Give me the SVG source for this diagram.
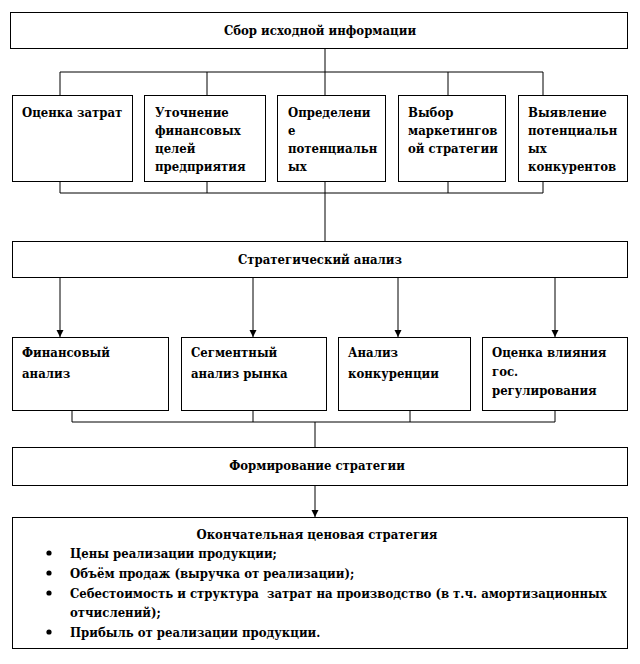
<svg xmlns="http://www.w3.org/2000/svg" width="640" height="664" viewBox="0 0 640 664">
<style>
  .box{fill:#fff;stroke:#000;stroke-width:1}
  .c{text-anchor:middle}
  .ln{fill:none;stroke:#000;stroke-width:1}
  text{font-family:"DejaVu Serif",serif;font-stretch:condensed;font-weight:bold;font-size:13px;fill:#000}
</style>
<defs>
  <marker id="ad" markerWidth="8" markerHeight="8" refX="4" refY="7" orient="0" markerUnits="userSpaceOnUse" viewBox="0 0 8 8">
    <path d="M0.5,0 L7.5,0 L4,7 Z" fill="#000"/>
  </marker>
</defs>
<rect width="640" height="664" fill="#fff"/>
<g id="connectors">
  <path class="ln" d="M325,49 V72 M60,72 H543 M60,72 V95 M207,72 V95 M325,72 V95 M448,72 V95 M543,72 V95"/>
  <path class="ln" d="M60,181 V193 M207,181 V193 M325,181 V193 M448,181 V193 M543,181 V193 M60,193 H543 M325,193 V241"/>
  <path class="ln" d="M60,277 V337" marker-end="url(#ad)"/>
  <path class="ln" d="M253,277 V337" marker-end="url(#ad)"/>
  <path class="ln" d="M398,277 V337" marker-end="url(#ad)"/>
  <path class="ln" d="M555,277 V337" marker-end="url(#ad)"/>
  <path class="ln" d="M72,410 V422 M253,410 V422 M410,410 V422 M555,410 V422 M72,422 H555 M315,422 V447"/>
  <path class="ln" d="M315,485 V517" marker-end="url(#ad)"/>
</g>
<g id="n-sbor">
  <rect class="box" x="10.5" y="12.5" width="617" height="36"/>
  <text class="c" x="320" y="35">Сбор исходной информации</text>
</g>
<g id="n-ocenka">
  <rect class="box" x="12.5" y="95.5" width="120" height="86"/>
  <text x="22" y="117">Оценка затрат</text>
</g>
<g id="n-utoch">
  <rect class="box" x="144.5" y="95.5" width="121" height="86"/>
  <text x="155" y="117">Уточнение</text>
  <text x="155" y="135">финансовых</text>
  <text x="155" y="153">целей</text>
  <text x="155" y="171">предприятия</text>
</g>
<g id="n-opred">
  <rect class="box" x="277.5" y="95.5" width="108" height="86"/>
  <text x="288" y="117">Определени</text>
  <text x="288" y="135">е</text>
  <text x="288" y="153">потенциальн</text>
  <text x="288" y="171">ых</text>
</g>
<g id="n-vybor">
  <rect class="box" x="398.5" y="95.5" width="107" height="86"/>
  <text x="408" y="117">Выбор</text>
  <text x="408" y="135">маркетингов</text>
  <text x="408" y="153">ой стратегии</text>
</g>
<g id="n-vyyav">
  <rect class="box" x="518.5" y="95.5" width="109" height="86"/>
  <text x="528" y="117">Выявление</text>
  <text x="528" y="135">потенциальн</text>
  <text x="528" y="153">ых</text>
  <text x="528" y="171">конкурентов</text>
</g>
<g id="n-strat">
  <rect class="box" x="12.5" y="241.5" width="615" height="36"/>
  <text class="c" x="320" y="264">Стратегический анализ</text>
</g>
<g id="n-fin">
  <rect class="box" x="12.5" y="337.5" width="156" height="73"/>
  <text x="22" y="357">Финансовый</text>
  <text x="22" y="378">анализ</text>
</g>
<g id="n-seg">
  <rect class="box" x="181.5" y="337.5" width="145" height="73"/>
  <text x="191" y="357">Сегментный</text>
  <text x="191" y="378">анализ рынка</text>
</g>
<g id="n-konk">
  <rect class="box" x="338.5" y="337.5" width="132" height="73"/>
  <text x="348" y="357">Анализ</text>
  <text x="348" y="378">конкуренции</text>
</g>
<g id="n-gos">
  <rect class="box" x="482.5" y="337.5" width="145" height="73"/>
  <text x="492" y="357">Оценка влияния</text>
  <text x="492" y="376">гос.</text>
  <text x="492" y="395">регулирования</text>
</g>
<g id="n-form">
  <rect class="box" x="12.5" y="447.5" width="615" height="38"/>
  <text class="c" x="317" y="470">Формирование стратегии</text>
</g>
<g id="n-final">
  <rect class="box" x="12.5" y="517.5" width="615" height="131"/>
  <text class="c" x="317" y="539">Окончательная ценовая стратегия</text>
  <circle cx="49" cy="553" r="2.6" fill="#000"/>
  <text x="70" y="558">Цены реализации продукции;</text>
  <circle cx="49" cy="573" r="2.6" fill="#000"/>
  <text x="70" y="578">Объём продаж (выручка  от реализации);</text>
  <circle cx="49" cy="593" r="2.6" fill="#000"/>
  <text x="70" y="598" xml:space="preserve">Себестоимость и структура  затрат на производство (в т.ч. амортизационных</text>
  <text x="70" y="617">отчислений);</text>
  <circle cx="49" cy="632" r="2.6" fill="#000"/>
  <text x="70" y="637">Прибыль от реализации продукции.</text>
</g>
</svg>
